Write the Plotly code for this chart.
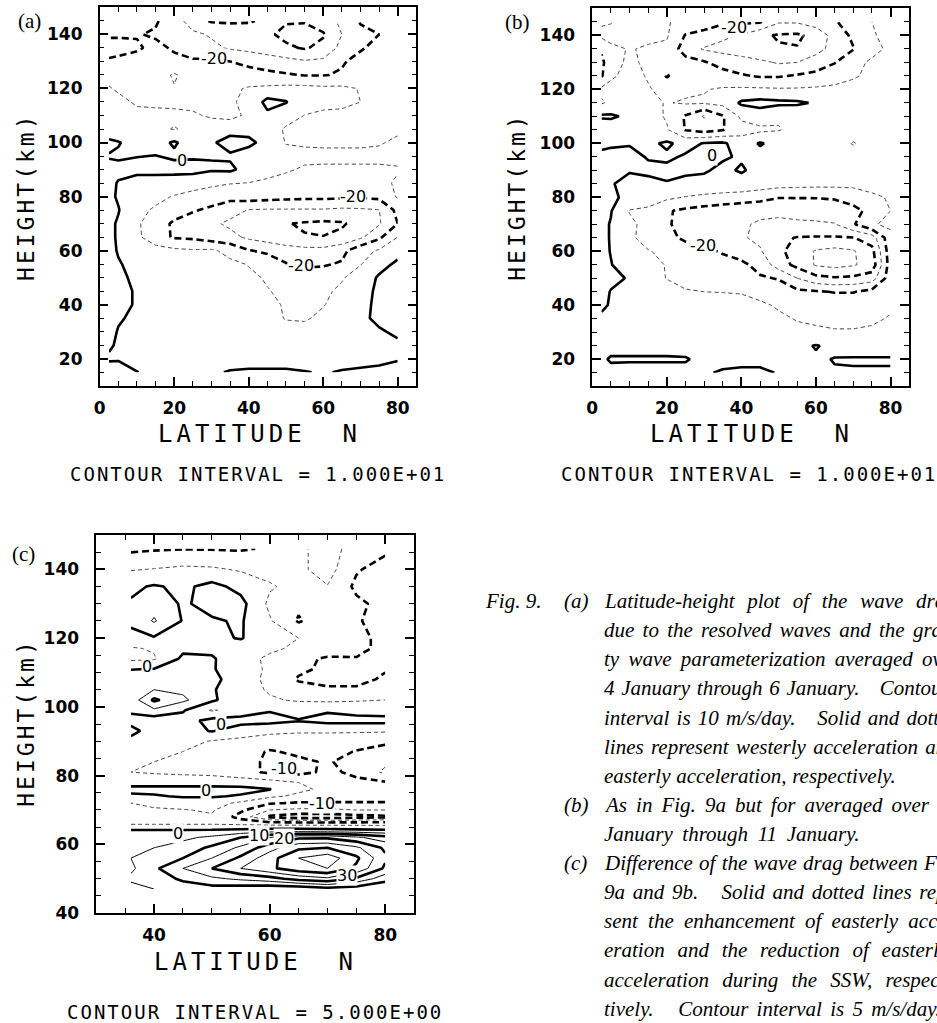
import plotly.graph_objects as go

FIG_W, FIG_H = 937, 1023

# ---------------------------------------------------------------------------
# (a) wave drag, 4-6 January mean (m/s/day); rows = height (km), cols = latitude
# ---------------------------------------------------------------------------
LAT_A = [2.5, 5, 10, 15, 20, 25, 30, 35, 40, 45, 50, 55, 60, 65, 70, 75, 80]
HGT_A = list(range(15, 150, 5))
DRAG_A = [
    [2, 1.5, 0.1, -1, -1.5, -1.5, -1, 0.5, 1, 1, 1, 0.3, -0.5, 0.5, 1, 1.5, 2.5],
    [-0.5, -0.3, -1.5, -2, -2, -2.5, -2.5, -3, -3, -3, -3, -3, -3, -2.5, -2, -1.5, -0.5],
    [0.5, -0.5, -1, -1.5, -1.5, -2, -2, -2.5, -3, -3.5, -4, -4, -3.5, -3, -2, -1.5, -0.8],
    [1.5, -0.3, -1, -1.5, -1.5, -2, -2.5, -3, -3.5, -5, -7, -7, -5, -3, -1.5, -0.5, 0.8],
    [2, 0.5, -1, -2, -2, -2.5, -3, -3.5, -4.5, -7, -10.5, -11, -8, -4, -1, 1, 2],
    [2, 1.5, -0.5, -2, -2.5, -3, -3.5, -4, -5, -7.5, -11, -12, -10.5, -6, -2, 1.5, 3],
    [2, 1.5, -0.5, -2, -3, -4, -4.5, -5, -6.5, -9.5, -12, -13, -12, -8, -3, 1.5, 3],
    [2, 1, -1, -3, -4, -5, -5.5, -6.5, -8, -11, -14, -16, -15, -11, -5, 1, 3],
    [2, 0.5, -2, -4, -5, -6, -7, -8, -10.5, -14, -19.5, -21.5, -21, -19, -10.5, -3, 1.5],
    [2, -0.5, -4, -6, -8, -9, -8.5, -13, -19.5, -22, -25, -27, -27, -23, -13, -9, -3],
    [2, -1, -8, -16, -21, -22, -25, -27, -32, -35, -38, -39.5, -39.8, -38, -32, -22, -10],
    [2, -1, -9, -14, -22, -25, -28, -32, -35, -38, -39.5, -41, -42, -41, -37, -31, -20],
    [2, 0.5, -8, -11, -14, -19, -22, -26, -30.5, -31, -31, -31, -31, -32, -31.5, -30.3, -17],
    [2, -1, -6, -8, -10.5, -13, -15, -17, -15, -16, -17, -17.5, -17.5, -18, -18.5, -17.5, -9],
    [2, -0.5, -4.5, -4.5, -5, -6, -8, -9.5, -10.2, -12, -13, -13, -13, -13, -13, -12, -9],
    [2, 2, 3, 3, 3, 3, 1, 1.5, -3, -6, -9, -11, -11, -11, -11, -11, -10.5],
    [-0.5, -1, -0.3, 0.2, -1.3, -1, -0.5, -1, -4, -6, -7, -8, -8.5, -8.5, -8.5, -8.5, -8.5],
    [2, 0.5, -3, -3, 1, -4, -1, 3, 2, -3, -10.5, -11, -11, -11, -11, -10.5, -9],
    [-6, -7, -7, -8, -10.5, -8, -6, -3, -3, -6, -11, -13, -13, -14, -13, -12, -11],
    [-6, -7, -8, -8, -8, -9, -11, -13, -8, -2, -6, -10.2, -12, -12, -12, -12.5, -12],
    [-6, -8, -11, -11.5, -12, -12, -12, -11, -8, 3, 0.5, -6, -7, -8, -10, -13, -13],
    [-9.5, -11, -12, -12, -10.5, -12, -12, -12, -9, -8, -7, -7, -8, -8, -10.5, -13, -13],
    [-12, -13, -14, -14, -9, -14, -15, -16, -17, -18, -19, -20.5, -20.5, -19, -16, -14, -13],
    [-19, -18, -17, -16, -18, -19, -18, -20, -22, -24, -27, -29, -28, -21, -17, -15, -13],
    [-23, -23, -21, -18, -21, -24, -28, -31, -33, -36, -38, -41, -37, -27, -21, -17, -14],
    [-19, -19, -19.5, -21, -24, -28, -31, -31, -34, -38, -43, -45, -41, -30, -23, -20, -14],
    [-15, -15, -16, -19, -25, -35, -41, -42, -41, -38, -39, -39, -35, -28, -19, -15, -12],
]

# ---------------------------------------------------------------------------
# (b) wave drag, 9-11 January mean (m/s/day)
# ---------------------------------------------------------------------------
LAT_B = [2.5, 5, 10, 15, 20, 25, 30, 35, 40, 45, 50, 55, 60, 65, 70, 75, 80]
HGT_B = list(range(15, 150, 5))
DRAG_B = [
    [-1, -0.8, -1, -1, -1, -1, -0.5, 0.5, 1, 1, -0.3, -1, -1, -0.5, -0.5, -0.5, -0.5],
    [-0.5, 0.3, 0.3, 0.3, 0.3, 0.3, -1, -1.5, -1.5, -1.5, -1.5, -1.5, -1, 0.3, 0.5, 0.5, 0.5],
    [-1, -1, -1, -1, -1, -1.5, -2, -2.5, -3, -3.5, -3, -2, 0.5, -2, -3, -3, -3],
    [-1, -1, -1.5, -2, -2.5, -3, -3.5, -4, -4.5, -5, -6, -8, -9, -9.5, -9.5, -9, -8],
    [-1, -1, -1.5, -2.5, -3.5, -4.5, -5, -5.5, -6, -7, -8.5, -10.5, -11, -11.5, -11.5, -11, -9.5],
    [1, -0.5, -2, -3.5, -5, -6.5, -7, -7, -7.5, -8.5, -11, -12, -13, -14, -14, -13, -11],
    [2, -0.3, -2, -4, -6, -9.5, -10, -10.2, -10.5, -13, -16, -18, -19, -20.5, -20.5, -17, -12],
    [2, 1.5, -0.5, -6, -10.3, -12, -13, -14, -16, -19, -20.5, -30, -37, -39, -38, -35, -14],
    [2, 0.3, -4, -7, -10.5, -12, -14, -16, -18, -23, -35, -43, -51, -53, -51, -46, -15],
    [2, -0.3, -5, -9.5, -12, -15, -18, -21, -24, -29, -38, -44, -51, -53, -51, -43, -14],
    [2, -0.5, -8, -14, -17, -22, -25, -27, -29, -32, -38, -40.5, -41, -41, -40.5, -35, -13],
    [2, -0.5, -8, -13, -19, -23, -26, -28, -29.5, -30.5, -31, -31, -31, -30.5, -21, -11, -8],
    [2, 0.5, -10.5, -12, -19, -22, -24, -26, -28, -29, -29, -28, -27, -25, -22, -18, -10],
    [2, 1.5, -2, -5, -8, -10.5, -12, -13, -14, -16, -19.5, -19.5, -19.5, -19, -17, -12, -9],
    [1.5, 0.5, -2, -2, -0.5, -1.5, -3, -4, -4, -5, -6, -6.5, -7, -7, -7, -6, -5],
    [1, 0.5, 0.5, 1.5, 2, 1, 1, -2, 1, -3, -4, -5, -6, -7, -7, -6, -5],
    [2, 2, 2, -0.5, -1.5, 1, 2, 1, -1, -3, -4, -5, -6, -7, -7, -6, -5],
    [-2, -1, -0.5, -2, 1.5, -3, 0.5, 1.5, -5, 0.8, -3, -5, -6, -7, -10.5, -7, -5],
    [-8, -6, -4, -5, -9, -20.5, -24, -20.5, -14, -12, -10.5, -7, -5, -5, -6, -5, -4],
    [1.5, 1.5, -2, -6, -11, -21, -31, -21, -8, -5, -9, -8, -5, -4, -4, -4, -3],
    [-11, -8, -7, -8, -10.5, -9, -9, -7, 1.5, 3, 2, 1.5, -1, -4, -5, -5, -4],
    [-8, -8, -6, -9.5, -12, -12, -10.5, -9, -8.5, -8.5, -9, -9, -8.5, -8, -7, -6, -5],
    [-21, -11, -8, -10.5, -21, -13, -14, -16, -19, -21, -21, -19, -17, -14, -11, -8, -6],
    [-23, -12, -9, -11, -13, -16, -19, -24, -26, -28, -31, -30, -26, -20.5, -13, -8.5, -8],
    [-18, -12, -9.5, -11, -12, -25, -31, -33, -35, -38, -39, -39.5, -33, -27, -20.5, -13, -8],
    [-8, -7, -6, -8, -9, -20.5, -22, -28, -31, -38, -41, -41.5, -37, -26, -18, -11, -7],
    [-11, -10.5, -6, -7, -9, -14, -17, -18, -18, -19, -29, -29, -25, -21, -15, -10, -7],
]

# ---------------------------------------------------------------------------
# (c) difference (b) - (a) (m/s/day)
# ---------------------------------------------------------------------------
LAT_C = [36, 40, 45, 50, 55, 60, 65, 70, 75, 80]
HGT_C = [47, 50, 53, 56, 59, 62, 64, 66, 68, 70, 72, 74, 76, 78, 81, 84, 87, 90, 93, 96,
         99, 102, 105, 108, 111, 114, 117, 120, 125, 130, 135, 140, 146]
DIFF_C = [
    [3, 5, 7, 8, 7, 6, 6, 8, 7, 5],
    [6, 7, 11, 14, 16, 18, 22, 24, 19, 12],
    [4, 9, 15, 20, 25, 29, 33, 35, 29, 19],
    [5, 6, 10, 15, 21, 28, 35, 38, 31, 21],
    [5, 5, 7, 11, 16, 23, 29, 30, 26, 19],
    [3, 3, 4, 6, 10, 15, 19, 19, 16, 12],
    [0.5, 0.5, 0.5, 0.8, 1.5, 2.5, 2.5, 2, 1.5, 1],
    [-5.5, -5.5, -5.5, -5.5, -6, -7, -7, -7, -7, -7],
    [-6, -6, -6, -5.5, -12, -21, -23, -23, -22, -21],
    [-5.5, -5.5, -5.2, -4.5, -9, -15, -16, -16, -15, -15],
    [-5, -4, -3, -3, -6, -9.5, -10.5, -10.5, -10.5, -10.5],
    [-1, -0.5, 0.5, 0.5, -0.5, -4, -6, -7, -7, -7],
    [1.5, 1.5, 1.5, 1.5, 1.5, 0.2, -4, -6, -7, -8],
    [-2, -2, -2, -2, -2.5, -3, -5, -7, -9, -9.5],
    [-5, -5.5, -6, -6.5, -8, -11, -11.5, -9, -11, -16],
    [-3.5, -5, -6, -7, -8, -11, -11, -9.5, -12, -14],
    [-2, -3, -5, -6, -7.5, -10.5, -9, -8, -10.3, -12],
    [-1, -1.5, -3.5, -5.3, -6, -7, -7, -7, -7.5, -9],
    [1, -1.5, -2, 0.3, -3, -4, -4.5, -4.5, -4.5, -4.5],
    [-1, -3, -2, 1.5, 2, 1.5, 0.3, 1.5, 1.5, 1.5],
    [0.5, 4, 0.5, -5.5, -3, -0.3, -2, -0.5, -1.5, -2],
    [2, 11, 6, 1, -4, -4.5, -5.5, -6, -5.5, -5],
    [3, 5, 4, 0.5, -3, -5.5, -8, -9, -9, -7],
    [4, 4, 3, 1.5, -3, -6, -10.5, -12, -12, -9],
    [-0.3, 0.2, 2, 0.3, -2, -6, -9, -11, -11, -10.5],
    [-6, -5.5, 1, 0.5, -3, -6, -9, -10.5, -10.2, -10.3],
    [-5.5, -4.5, -1, -1, -2.5, -4, -6, -8, -9, -11],
    [-1.5, -0.5, -1, -1, 0.3, -3, -5, -7.5, -9, -11],
    [1, 5.5, -0.3, -0.5, 0.5, -4.5, -10.5, -7, -9.5, -12],
    [0.5, 3, -0.6, 1.5, 1.5, -6, -9, -7, -9, -11.5],
    [-1, 0.5, -1, 1.5, -1.5, -4.5, -6.5, -5.2, -11, -13],
    [-5.3, -4.8, -4, -4.3, -5.5, -6.5, -6, -3, -9.5, -12],
    [-11, -10.5, -10.2, -10.3, -10.5, -9.5, -6, -3, -7, -9],
]

# in-line contour labels: (text, latitude, height)
LABELS_A = [("-20", 30.6, 131.0), ("0", 22.0, 93.3), ("-20", 68.0, 80.0), ("-20", 54.0, 54.5)]
LABELS_B = [("-20", 38.0, 143.0), ("0", 32.2, 95.5), ("-20", 29.7, 62.0)]
LABELS_C = [("0", 38.7, 111.6), ("0", 51.5, 95.0), ("-10", 62.5, 82.0), ("0", 49.0, 75.8),
            ("-10", 69.0, 71.8), ("0", 44.2, 63.3), ("10", 58.2, 62.7), ("20", 62.4, 61.8),
            ("30", 73.4, 50.9)]

# caption: (figure number, item tag, text, word spacing in px for justified lines)
CAPTION = [
    ("Fig. 9.", "(a)", "Latitude-height plot of the wave drag", 7.5),
    ("", "", "due to the resolved waves and the gravi-", 3),
    ("", "", "ty wave parameterization averaged over", 4),
    ("", "", "4 January through 6 January.\u00a0\u00a0 Contour", 1.5),
    ("", "", "interval is 10 m/s/day.\u00a0\u00a0 Solid and dotted", 2),
    ("", "", "lines represent westerly acceleration and", 2),
    ("", "", "easterly acceleration, respectively.", 0.5),
    ("", "(b)", "As in Fig. 9a but for averaged over 9", 3.8),
    ("", "", "January through 11 January.", 4.3),
    ("", "(c)", "Difference of the wave drag between Figs.", 1),
    ("", "", "9a and 9b.\u00a0\u00a0 Solid and dotted lines repre-", 2.5),
    ("", "", "sent the enhancement of easterly accel-", 5),
    ("", "", "eration and the reduction of easterly", 7.5),
    ("", "", "acceleration during the SSW, respec-", 8),
    ("", "", "tively.\u00a0\u00a0 Contour interval is 5 m/s/day.", 3),
]

# panel boxes in pixels (left, right, top, bottom) and data ranges
PANELS = [
    dict(key="a", box=(94.3, 413.0, 7.5, 389.5), xr=[0, 85], yr=[10, 150],
         xt=[0, 20, 40, 60, 80], yt=[20, 40, 60, 80, 100, 120, 140]),
    dict(key="b", box=(590.0, 909.0, 8.5, 390.0), xr=[0, 85], yr=[10, 150],
         xt=[0, 20, 40, 60, 80], yt=[20, 40, 60, 80, 100, 120, 140]),
    dict(key="c", box=(90.8, 410.8, 540.3, 922.1), xr=[30, 85], yr=[40, 150],
         xt=[40, 60, 80], yt=[40, 60, 80, 100, 120, 140]),
]

THIN_DASH = "4px,3px"
THICK_DASH = "7px,4px"


def px(x):
    return x / FIG_W


def py(y):
    return 1 - y / FIG_H


def level_sets(step):
    """(start, end, size, width, dash, colour) for alternating thin/thick isolines."""
    d = 2 * step
    return [
        (-9 * step, -step, d, 1.0, THIN_DASH, "#444"),
        (-8 * step, -2 * step, d, 2.6, THICK_DASH, "black"),
        (0, 0.5, 1, 2.6, "solid", "black"),
        (step, 9 * step, d, 1.0, "solid", "black"),
        (2 * step, 8 * step, d, 2.6, "solid", "black"),
    ]


fig = go.Figure()

FIELDS = {"a": (LAT_A, HGT_A, DRAG_A, 10), "b": (LAT_B, HGT_B, DRAG_B, 10),
          "c": (LAT_C, HGT_C, DIFF_C, 5)}

layout_axes = {}
for i, p in enumerate(PANELS):
    n = "" if i == 0 else str(i + 1)
    lat, hgt, z, step = FIELDS[p["key"]]
    for s, e, sz, w, dash, col in level_sets(step):
        fig.add_trace(go.Contour(
            x=lat, y=hgt, z=z, autocontour=False,
            contours=dict(coloring="none", start=s, end=e, size=sz, showlabels=False),
            line=dict(color=col, width=w, dash=dash, smoothing=0),
            showscale=False, hoverinfo="skip", xaxis="x" + n, yaxis="y" + n,
        ))
    x0, x1, y0, y1 = p["box"]
    common = dict(showline=True, linecolor="black", linewidth=1.5, mirror="ticks",
                  ticks="inside", ticklen=9, tickwidth=1.5, tickcolor="black",
                  showgrid=False, zeroline=False, fixedrange=True,
                  tickfont=dict(family="DejaVu Sans", size=17, color="black", weight="bold"),
                  minor=dict(ticks="inside", ticklen=5, tickwidth=1, tickcolor="black",
                             dtick=5, tick0=0, showgrid=False))
    layout_axes["xaxis" + n] = dict(common, domain=[px(x0), px(x1)], range=p["xr"],
                                    tickmode="array", tickvals=p["xt"], anchor="y" + n,
                                    ticklabelstandoff=6)
    layout_axes["yaxis" + n] = dict(common, domain=[py(y1), py(y0)], range=p["yr"],
                                    tickmode="array", tickvals=p["yt"], anchor="x" + n,
                                    ticklabelstandoff=12)

ann = []
label_font = dict(family="DejaVu Sans", size=16, color="black")
for i, labels in enumerate([LABELS_A, LABELS_B, LABELS_C]):
    n = "" if i == 0 else str(i + 1)
    for txt, la, h in labels:
        ann.append(dict(x=la, y=h, xref="x" + n, yref="y" + n, text=txt, showarrow=False,
                        xanchor="center", yanchor="middle",
                        font=label_font, bgcolor="white", borderpad=0))

title_font = dict(family="DejaVu Sans Mono", color="black")


def spaced(text, gap):
    return '<span style="letter-spacing:%spx">%s</span>' % (gap, text)


def centred(cx, cy, text, font, angle=0):
    return dict(x=px(cx), y=py(cy), xref="paper", yref="paper", showarrow=False,
                xanchor="center", yanchor="middle", text=text, textangle=angle, font=font)


# axis titles and contour-interval notes
for cx, cy in [(255, 438), (750, 438), (251, 972)]:
    ann.append(centred(cx, cy, spaced("LATITUDE\u00a0\u00a0N", 4), dict(title_font, size=24)))
for cx, cy in [(20, 199), (514, 199), (20, 730)]:
    ann.append(centred(cx, cy, spaced("HEIGHT(km)", 3), dict(title_font, size=23), -90))
for cx, cy, txt in [(254, 479, "CONTOUR INTERVAL = 1.000E+01"),
                    (748, 479, "CONTOUR INTERVAL = 1.000E+01"),
                    (251, 1022, "CONTOUR INTERVAL = 5.000E+00")]:
    ann.append(centred(cx, cy, spaced(txt, 2), dict(title_font, size=19)))

# panel tags
for cx, cy, t in [(24, 21, "(a)"), (515, 22, "(b)"), (18, 559, "(c)")]:
    ann.append(centred(cx, cy, t, dict(family="Liberation Serif", size=21, color="black")))

# figure caption
cap_font = dict(family="Liberation Serif", size=21, color="black", style="italic")
for k, (fig_no, tag, body, ws) in enumerate(CAPTION):
    yy = py(607 + 29.4 * k)
    body_html = '<span style="word-spacing:%spx">%s</span>' % (ws, body)
    for xx, t in [(480, fig_no), (560, tag), (600, body_html)]:
        if t:
            ann.append(dict(x=px(xx), y=yy, xref="paper", yref="paper", showarrow=False,
                            xanchor="left", yanchor="middle", text=t, font=cap_font))

fig.update_layout(
    width=FIG_W, height=FIG_H, margin=dict(l=0, r=0, t=0, b=0),
    paper_bgcolor="white", plot_bgcolor="white", showlegend=False,
    annotations=ann, **layout_axes,
)

fig.write_html("out.html")
